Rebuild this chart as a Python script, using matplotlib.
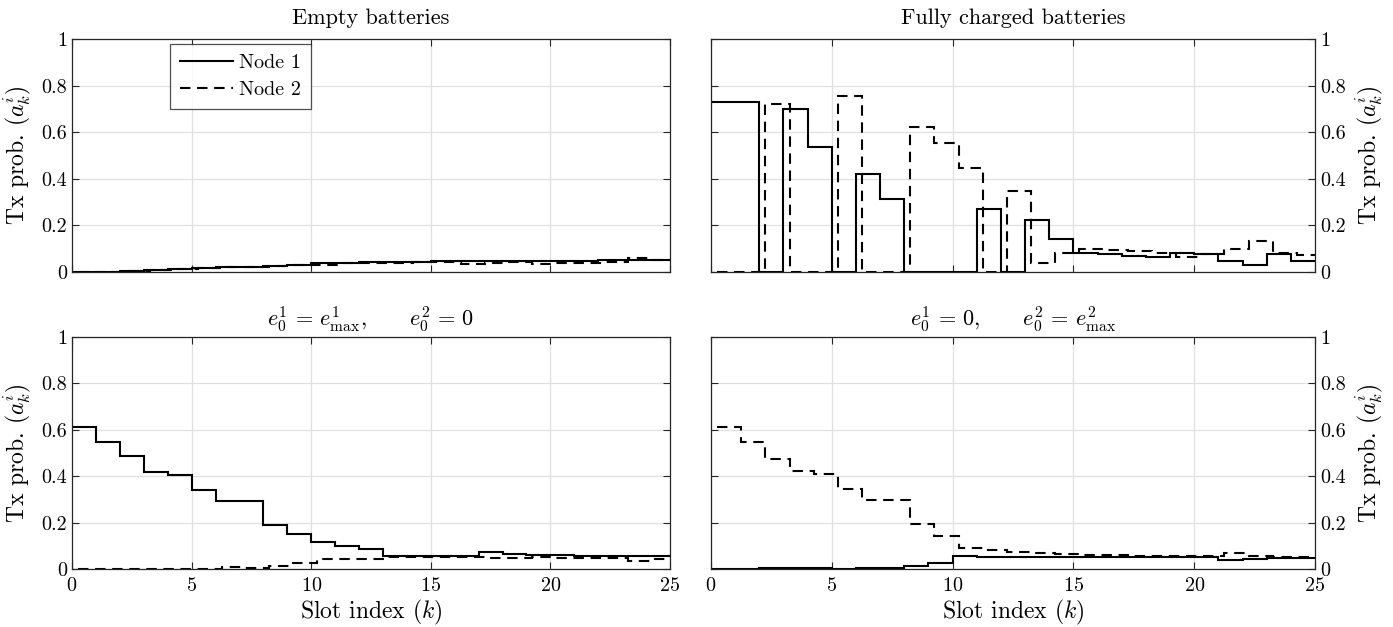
import numpy as np
import matplotlib
matplotlib.use("Agg")
import matplotlib.pyplot as plt

plt.rcParams["font.family"] = "serif"
plt.rcParams["font.serif"] = ["cmr10"]
plt.rcParams["mathtext.fontset"] = "cm"
plt.rcParams["axes.formatter.use_mathtext"] = True

# slot index k = 0..24, each value holds over one slot
slots = np.arange(26)
node2_shift = 0.25  # node 2 steps are drawn slightly after node 1's

# empty batteries
empty_n1 = [0.002, 0.002, 0.004, 0.008, 0.012, 0.016, 0.020, 0.022, 0.026, 0.030,
            0.038, 0.040, 0.042, 0.044, 0.045, 0.046, 0.046, 0.047, 0.047, 0.048,
            0.048, 0.049, 0.050, 0.050, 0.052]
empty_n2 = [0.000, 0.002, 0.004, 0.008, 0.012, 0.016, 0.020, 0.022, 0.026, 0.030,
            0.030, 0.038, 0.040, 0.040, 0.044, 0.045, 0.035, 0.040, 0.045, 0.035,
            0.038, 0.040, 0.042, 0.058, 0.052]

# fully charged batteries
full_n1 = [0.73, 0.73, 0.0, 0.70, 0.535, 0.0, 0.42, 0.315, 0.0, 0.0,
           0.0, 0.272, 0.0, 0.223, 0.14, 0.08, 0.076, 0.070, 0.063, 0.083,
           0.076, 0.047, 0.030, 0.076, 0.047]
full_n2 = [0.0, 0.0, 0.72, 0.0, 0.0, 0.755, 0.0, 0.0, 0.624, 0.552,
           0.445, 0.0, 0.348, 0.040, 0.083, 0.100, 0.094, 0.090, 0.083, 0.063,
           0.076, 0.097, 0.133, 0.080, 0.073]

# node 1 full, node 2 empty
n1full_n1 = [0.61, 0.546, 0.488, 0.416, 0.407, 0.339, 0.292, 0.294, 0.19, 0.152,
             0.116, 0.099, 0.088, 0.056, 0.058, 0.058, 0.058, 0.072, 0.065, 0.062,
             0.060, 0.058, 0.056, 0.055, 0.055]
n1full_n2 = [0.0, 0.0, 0.0, 0.0, 0.0, 0.0, 0.008, 0.005, 0.015, 0.025,
             0.045, 0.045, 0.045, 0.050, 0.052, 0.050, 0.050, 0.048, 0.048, 0.050,
             0.048, 0.048, 0.047, 0.035, 0.045]

# node 1 empty, node 2 full
n2full_n1 = [0.0, 0.0, 0.003, 0.003, 0.003, 0.002, 0.004, 0.004, 0.011, 0.025,
             0.055, 0.053, 0.050, 0.050, 0.050, 0.050, 0.050, 0.050, 0.050, 0.050,
             0.050, 0.040, 0.045, 0.048, 0.048]
n2full_n2 = [0.613, 0.548, 0.474, 0.422, 0.409, 0.345, 0.296, 0.296, 0.195, 0.143,
             0.090, 0.081, 0.074, 0.068, 0.065, 0.062, 0.060, 0.058, 0.056, 0.055,
             0.055, 0.070, 0.055, 0.050, 0.050]

titles = ["Empty batteries", "Fully charged batteries",
          r"$e_0^1 \,=\, e_{\max}^1, \qquad e_0^2 \,=\, 0$",
          r"$e_0^1 \,=\, 0, \qquad e_0^2 \,=\, e_{\max}^2$"]
series = [(empty_n1, empty_n2), (full_n1, full_n2),
          (n1full_n1, n1full_n2), (n2full_n1, n2full_n2)]
yticks = [0, 0.2, 0.4, 0.6, 0.8, 1]
ytick_labels = ["0", "0.2", "0.4", "0.6", "0.8", "1"]
xticks = [0, 5, 10, 15, 20, 25]

W, H = 1393, 627
fig = plt.figure(figsize=(W / 100, H / 100), dpi=100)
boxes = [(72, 39, 670, 272), (711, 39, 1315, 272),
         (72, 337, 670, 569), (711, 337, 1315, 569)]

for i, (l, t, r, b) in enumerate(boxes):
    ax = fig.add_axes([l / W, 1 - b / H, (r - l) / W, (b - t) / H])
    n1, n2 = series[i]
    ax.stairs(n1, slots, baseline=None, color="black", lw=1.5, label="Node 1")
    ax.stairs(n2, slots + node2_shift, baseline=None, color="black", lw=1.5,
              linestyle=(0, (5, 3.2)), label="Node 2")
    ax.set_xlim(0, 25)
    ax.set_ylim(0, 1)
    ax.set_xticks(xticks)
    ax.set_yticks(yticks)
    ax.set_yticklabels(ytick_labels)
    ax.grid(True, color="#e0e0e0", lw=0.9)
    ax.set_axisbelow(True)
    ax.tick_params(direction="in", length=5, width=0.8, color="#262626",
                   labelsize=14.5, top=True, right=True, left=True, bottom=True)
    ax.tick_params(axis="x", pad=6)
    for s in ax.spines.values():
        s.set_color("#262626")
        s.set_linewidth(0.9)
    ax.set_title(titles[i], fontsize=16, pad=11 if i < 2 else 8)
    ax.set_ylabel(r"Tx prob. $(a_k^i)$", fontsize=17, labelpad=6)
    if i % 2 == 1:
        ax.yaxis.set_label_position("right")
        ax.tick_params(labelleft=False, labelright=True)
    if i < 2:
        ax.tick_params(labelbottom=False)
    else:
        ax.set_xlabel(r"Slot index $(k)$", fontsize=17, labelpad=2)
    if i == 0:
        leg = ax.legend(loc="upper left", bbox_to_anchor=(0.164, 0.98),
                        fontsize=14.5, frameon=True, fancybox=False,
                        edgecolor="#262626", handlelength=2.6,
                        borderpad=0.5, labelspacing=0.45, handletextpad=0.3,
                        borderaxespad=0.0)
        leg.get_frame().set_linewidth(0.9)

fig.savefig("out.png", dpi=100)
